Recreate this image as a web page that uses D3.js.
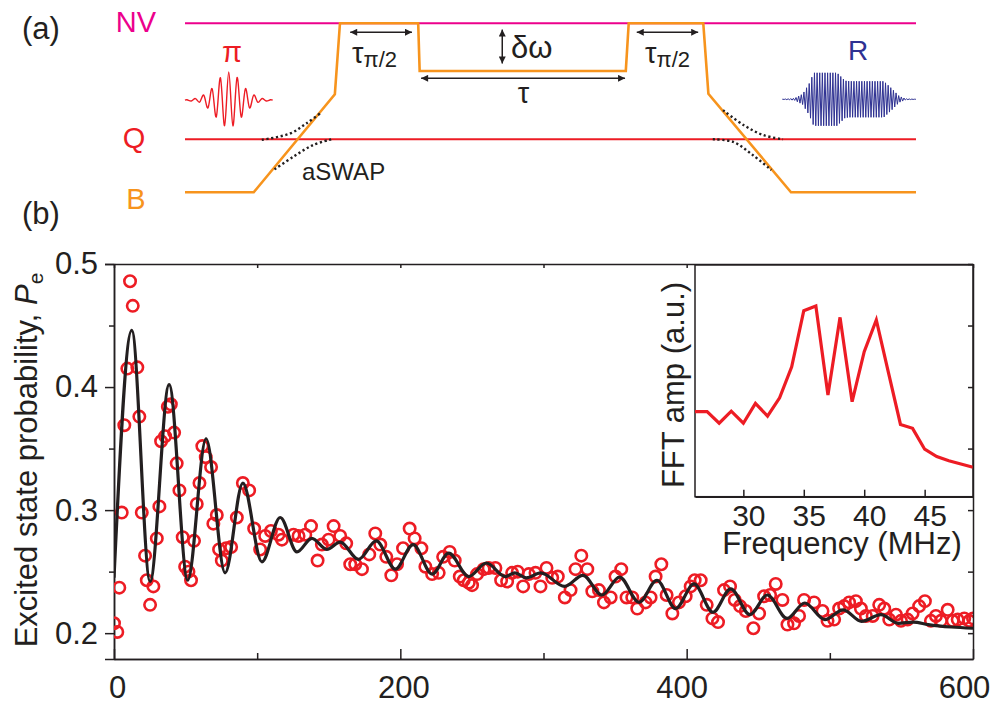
<!DOCTYPE html>
<html>
<head>
<meta charset="utf-8">
<script src="https://cdn.jsdelivr.net/npm/d3@7"></script>
<style>
body { margin: 0; background: #fff; }
text { font-family: "Liberation Sans", Arial, sans-serif; fill: #231f20; }
</style>
</head>
<body>
<script>
// ---- panel (b): measured excited state probability vs time (ns)
var dataX = [0, 2.3, 3.7, 5.4, 7.2, 9.3, 11.2, 13.1, 16.3, 17.7,
  19.4, 21.7, 22.9, 25.2, 27.5, 29.9, 31.7, 32.9, 35.7, 37.6,
  39.7, 42.0, 43.8, 45.7, 48.0, 49.7, 52.0, 53.8, 55.9, 57.8,
  59.7, 61.7, 64.1, 67.8, 69.4, 71.8, 73.4, 75.3, 78.3, 81.8,
  85.8, 90.0, 94.4, 97.9, 102.1, 105.6, 109.6, 114.9, 117.3, 125.4,
  128.9, 133.6, 137.6, 142.2, 145.2, 149.9, 153.4, 158.0, 162.2, 165.0,
  168.5, 173.2, 178.3, 182.5, 186.0, 190.2, 193.7, 197.7, 201.9, 206.5,
  210.0, 214.7, 217.5, 222.2, 226.8, 229.9, 234.5, 238.0, 241.5, 244.3,
  247.8, 250.1, 253.6, 258.2, 261.7, 266.4, 270.4, 274.6, 278.1, 282.0,
  285.8, 289.7, 294.4, 297.9, 302.1, 306.1, 310.0, 314.9, 318.9, 322.4,
  326.4, 330.6, 334.1, 338.7, 342.2, 346.9, 350.3, 354.3, 358.0, 362.0,
  365.5, 371.3, 374.8, 378.3, 382.3, 386.0, 390.0, 394.6, 399.3, 402.8,
  405.6, 409.8, 414.0, 418.0, 421.9, 426.1, 430.3, 433.6, 437.3, 441.3,
  446.6, 450.6, 454.1, 458.3, 462.2, 466.9, 470.4, 475.0, 478.5, 482.0,
  489.0, 494.9, 498.4, 503.0, 506.5, 510.0, 513.5, 518.2, 521.7, 525.2,
  529.9, 534.5, 538.0, 541.5, 546.2, 549.7, 554.3, 557.8, 562.4, 566.4,
  570.6, 574.1, 577.6, 582.3, 585.8, 589.3, 593.9, 597.4, 600];
var dataY = [0.208, 0.201, 0.237, 0.298, 0.369, 0.415, 0.486, 0.466, 0.416, 0.376,
  0.298, 0.263, 0.243, 0.223, 0.238, 0.277, 0.303, 0.356, 0.360, 0.384,
  0.386, 0.363, 0.338, 0.316, 0.278, 0.254, 0.250, 0.243, 0.275, 0.305,
  0.322, 0.352, 0.343, 0.335, 0.289, 0.296, 0.268, 0.259, 0.269, 0.270,
  0.294, 0.322, 0.316, 0.285, 0.268, 0.279, 0.283, 0.280, 0.276, 0.280,
  0.279, 0.280, 0.287, 0.259, 0.272, 0.276, 0.287, 0.279, 0.273, 0.256,
  0.256, 0.252, 0.264, 0.281, 0.272, 0.262, 0.247, 0.256, 0.269, 0.285,
  0.277, 0.269, 0.254, 0.248, 0.249, 0.262, 0.266, 0.259, 0.246, 0.243,
  0.241, 0.239, 0.248, 0.252, 0.253, 0.253, 0.243, 0.242, 0.249, 0.250,
  0.238, 0.248, 0.249, 0.238, 0.253, 0.245, 0.246, 0.229, 0.235, 0.252,
  0.263, 0.252, 0.234, 0.235, 0.225, 0.229, 0.246, 0.252, 0.229, 0.229,
  0.220, 0.225, 0.229, 0.246, 0.256, 0.231, 0.216, 0.225, 0.230, 0.238,
  0.243, 0.243, 0.223, 0.212, 0.209, 0.235, 0.238, 0.227, 0.222, 0.218,
  0.204, 0.216, 0.230, 0.231, 0.240, 0.227, 0.207, 0.208, 0.214, 0.227,
  0.225, 0.218, 0.210, 0.211, 0.220, 0.222, 0.225, 0.226, 0.220, 0.214,
  0.214, 0.223, 0.220, 0.211, 0.215, 0.210, 0.211, 0.216, 0.222, 0.226,
  0.210, 0.214, 0.210, 0.219, 0.210, 0.211, 0.212, 0.210, 0.212];

// fit curve, read at its turning points
var fitX = [0, 12.4, 25.2, 38.5, 51.5, 64.3, 77.6, 90.0, 103.3, 116.1,
  127.8, 138.2, 148.7, 158.0, 170.8, 183.2, 196.5, 208.9, 222.2, 233.8,
  247.8, 260.1, 273.4, 280, 288, 298, 314.7, 327.5, 340.8, 353.1,
  366.8, 379.2, 392.3, 405.1, 418.4, 430.8, 444.1, 456.4, 470.1, 482.5,
  496.5, 509.3, 522.2, 535.7, 547.8, 558.3, 568.7, 585, 600];
var fitY = [0.245, 0.446, 0.242, 0.402, 0.243, 0.358, 0.249, 0.322, 0.258, 0.294,
  0.266, 0.277, 0.268, 0.274, 0.260, 0.275, 0.252, 0.272, 0.248, 0.265,
  0.246, 0.257, 0.246, 0.249, 0.245, 0.249, 0.238, 0.247, 0.231, 0.2456,
  0.225, 0.243, 0.220, 0.240, 0.217, 0.236, 0.215, 0.231, 0.212, 0.2245,
  0.211, 0.219, 0.2096, 0.215, 0.208, 0.209, 0.207, 0.205, 0.204];

var xMajor = [0, 200, 400, 600], xMinor = [100, 300, 500];
var yMajor = [0.2, 0.3, 0.4, 0.5], yMinor = [0.25, 0.35, 0.45];

// inset: FFT amplitude (a.u.) vs frequency (MHz)
var fftF = [26, 27, 28, 29, 30, 31, 32, 33, 34, 35, 36, 37, 38, 39, 40, 41, 42, 43, 44, 45, 46, 47, 48, 49];
var fftA = [0.367, 0.367, 0.317, 0.369, 0.317, 0.403, 0.348, 0.427, 0.561, 0.803, 0.823, 0.439,
  0.774, 0.410, 0.626, 0.763, 0.537, 0.312, 0.295, 0.205, 0.173, 0.155, 0.141, 0.127];
var fftTicks = [30, 35, 40, 45];

// ---- panel (a): pulse sequence, time in a.u., level energy in a.u.
var levelE = { NV: 3.19, Q: 1 };
var bT = [0, 9.4, 20.5, 21.2, 31.9, 32.1, 60.3, 60.7, 70.9, 71.6, 82.9, 100];
var bE = [0, 0, 1.85, 3.19, 3.19, 2.29, 2.29, 3.19, 3.19, 1.86, 0, 0];
var dotCurves = [
  [[10.5, 0.99], [14.4, 1.11], [16.6, 1.30], [18.5, 1.49]],
  [[20.0, 1.0], [17.5, 0.89], [14.8, 0.67], [12.1, 0.42]],
  [[73.6, 1.55], [76.4, 1.27], [79.1, 1.08], [81.8, 1.0]],
  [[72.2, 1.0], [75.0, 0.95], [77.7, 0.70], [80.2, 0.42]]
];
var piEnvT = [0, 2.0, 3.56, 5.0, 6.0, 7.0, 8.4, 10.0, 12.0];
var piEnvA = [0, 0.04, 0.19, 0.45, 0.53, 0.45, 0.19, 0.04, 0];
var rEnvT = [81.7, 83.4, 84.5, 85.4, 86.0, 89.2, 90.3, 91.0, 95.6, 96.7, 97.7, 98.6, 100];
var rEnvA = [0, 0.02, 0.1, 0.3, 0.5, 0.5, 0.35, 0.34, 0.34, 0.2, 0.06, 0.01, 0];

var ink = '#231f20', red = '#ed1c24', orange = '#f7941d', magenta = '#ec008c', blue = '#2e3192';

var svg = d3.select('body').append('svg')
  .attr('width', 994).attr('height', 707);

var defs = svg.append('defs');
defs.append('marker').attr('id', 'arr')
  .attr('viewBox', '0 0 10 10').attr('refX', 10).attr('refY', 5)
  .attr('markerUnits', 'userSpaceOnUse')
  .attr('markerWidth', 9).attr('markerHeight', 7)
  .attr('orient', 'auto-start-reverse')
  .append('path').attr('d', 'M0,0L10,5L0,10z').attr('fill', ink);
defs.append('clipPath').attr('id', 'plotclip')
  .append('rect').attr('x', 114).attr('y', 264).attr('width', 859).attr('height', 395);

// ================= panel (a) =================
var tx = d3.scaleLinear().domain([0, 100]).range([185, 916]);
var ey = d3.scaleLinear().domain([0, 1]).range([192.3, 139.3]);

function label(g, txt, px, py, size, color, anchor) {
  return g.append('text').attr('x', px).attr('y', py)
    .attr('font-size', size).attr('text-anchor', anchor || 'start')
    .style('fill', color || ink).text(txt);
}

var ga = svg.append('g');
label(ga, '(a)', 22, 39, 31);
label(ga, 'NV', 136, 32, 29, magenta, 'middle');
label(ga, 'Q', 134, 148, 29, red, 'middle');
label(ga, 'B', 136, 209, 29, orange, 'middle');

ga.append('line').attr('x1', tx(0)).attr('x2', tx(100))
  .attr('y1', ey(levelE.NV)).attr('y2', ey(levelE.NV))
  .attr('stroke', magenta).attr('stroke-width', 2);
ga.append('line').attr('x1', tx(0)).attr('x2', tx(100))
  .attr('y1', ey(levelE.Q)).attr('y2', ey(levelE.Q))
  .attr('stroke', red).attr('stroke-width', 2);

var bPts = bT.map(function(t, i) { return [t, bE[i]]; });
var lineTE = d3.line().x(function(d) { return tx(d[0]); }).y(function(d) { return ey(d[1]); });
ga.append('path').attr('d', lineTE(bPts))
  .attr('fill', 'none').attr('stroke', orange).attr('stroke-width', 2.6)
  .attr('stroke-linejoin', 'miter');

var dotLine = d3.line().x(function(d) { return tx(d[0]); }).y(function(d) { return ey(d[1]); })
  .curve(d3.curveCatmullRom);
dotCurves.forEach(function(c) {
  ga.append('path').attr('d', dotLine(c))
    .attr('fill', 'none').attr('stroke', ink).attr('stroke-width', 2.4)
    .attr('stroke-dasharray', '2.2,2.6');
});

// pulses: carrier swings between +/- envelope
function pulse(envT, envA, half, center) {
  var env = d3.scaleLinear().domain(envT).range(envA).clamp(true);
  var pts = [[envT[0], center]], k = 0;
  for (var t = envT[0] + half / 2; t < envT[envT.length - 1]; t += half) {
    pts.push([t, center + (k % 2 ? -1 : 1) * env(t)]);
    k++;
  }
  pts.push([envT[envT.length - 1], center]);
  return pts;
}
var piPts = pulse(piEnvT, piEnvA, 0.57, 1.74);
ga.append('path').attr('d', lineTE.curve(d3.curveCardinal)(piPts))
  .attr('fill', 'none').attr('stroke', red).attr('stroke-width', 1.4);
var rPts = pulse(rEnvT, rEnvA, 0.18, 1.755);
ga.append('path').attr('d', lineTE.curve(d3.curveLinear)(rPts))
  .attr('fill', 'none').attr('stroke', blue).attr('stroke-width', 1);
label(ga, 'π', 232, 62, 29, red, 'middle');
label(ga, 'R', 858, 60, 28, blue, 'middle');

// arrows
function arrow(t1, e1, t2, e2) {
  ga.append('line').attr('x1', tx(t1)).attr('y1', ey(e1)).attr('x2', tx(t2)).attr('y2', ey(e2))
    .attr('stroke', ink).attr('stroke-width', 1.5)
    .attr('marker-start', 'url(#arr)').attr('marker-end', 'url(#arr)');
}
arrow(22.6, 3.02, 31.05, 3.02);
arrow(61.8, 3.02, 70.2, 3.02);
arrow(32.3, 2.15, 60.2, 2.15);
arrow(43.4, 3.07, 43.4, 2.43);

[352, 645].forEach(function(px) {
  var t = ga.append('text').attr('x', px).attr('y', 63).attr('font-size', 29);
  t.append('tspan').text('τ');
  t.append('tspan').attr('font-size', 22).attr('dy', 4).text('π/2');
});
label(ga, 'δω', 511, 58, 31);
label(ga, 'τ', 523.5, 103, 29, ink, 'middle');
label(ga, 'aSWAP', 302, 180, 24);
label(ga, '(b)', 22, 224, 31);

// ================= panel (b) =================
var x = d3.scaleLinear().domain([0, 600]).range([114, 973]);
var y = d3.scaleLinear().domain([0.179, 0.5]).range([659, 264]);

function styleAxis(g, size) {
  g.attr('font-size', size).attr('color', ink);
  g.selectAll('path, line').attr('stroke-width', 1.5);
  return g;
}

// the outer tick labels sit a little inside the frame, as in the figure
styleAxis(svg.append('g').attr('transform', 'translate(0,659)')
  .call(d3.axisBottom(x).tickValues(xMajor).tickSizeInner(-10).tickSizeOuter(0)
    .tickPadding(17).tickFormat(d3.format('d'))), 31)
  .selectAll('text').attr('dx', function(d) { return d === 600 ? -9 : (d === 400 ? -5 : 3); });
styleAxis(svg.append('g').attr('transform', 'translate(0,659)')
  .call(d3.axisBottom(x).tickValues(xMinor).tickSizeInner(-6).tickSizeOuter(0)
    .tickFormat(function() { return ''; })), 31);
styleAxis(svg.append('g').attr('transform', 'translate(0,264)')
  .call(d3.axisTop(x).tickValues(xMajor.concat(xMinor)).tickSizeInner(-4).tickSizeOuter(0)
    .tickFormat(function() { return ''; })), 31);
styleAxis(svg.append('g').attr('transform', 'translate(114,0)')
  .call(d3.axisLeft(y).tickValues(yMajor).tickSize(9).tickPadding(7)
    .tickFormat(d3.format('.1f'))), 31);
styleAxis(svg.append('g').attr('transform', 'translate(114,0)')
  .call(d3.axisLeft(y).tickValues(yMinor).tickSizeInner(5).tickSizeOuter(0)
    .tickFormat(function() { return ''; })), 31);

var yTitle = svg.append('text')
  .attr('transform', 'translate(36.5,460) rotate(-90)')
  .attr('text-anchor', 'middle').attr('font-size', 31);
yTitle.append('tspan').text('Excited state probability, ');
yTitle.append('tspan').attr('font-style', 'italic').text('P');
yTitle.append('tspan').attr('font-size', 21).attr('dy', 6).text('e');

var plot = svg.append('g').attr('clip-path', 'url(#plotclip)');
plot.selectAll('circle').data(dataX).enter().append('circle')
  .attr('cx', function(d) { return x(d); })
  .attr('cy', function(d, i) { return y(dataY[i]); })
  .attr('r', 5.7)
  .attr('fill', 'none').attr('stroke', red).attr('stroke-width', 2.6);

var fitPts = fitX.map(function(v, i) { return [v, fitY[i]]; });
plot.append('path')
  .attr('d', d3.line().x(function(d) { return x(d[0]); }).y(function(d) { return y(d[1]); })
    .curve(d3.curveMonotoneX)(fitPts))
  .attr('fill', 'none').attr('stroke', ink).attr('stroke-width', 3.2);

// ---- inset
var fx = d3.scaleLinear().domain([26, 49]).range([695, 973]);
var fy = d3.scaleLinear().domain([0, 1]).range([496.7, 265]);

svg.append('rect').attr('x', 695).attr('y', 265).attr('width', 278).attr('height', 231.7)
  .attr('fill', '#fff').attr('stroke', ink).attr('stroke-width', 1.5);
svg.append('path')
  .attr('d', d3.line().x(function(d) { return fx(d); }).y(function(d, i) { return fy(fftA[i]); })(fftF))
  .attr('fill', 'none').attr('stroke', red).attr('stroke-width', 3.2)
  .attr('stroke-linejoin', 'miter');
styleAxis(svg.append('g').attr('transform', 'translate(0,496.7)')
  .call(d3.axisBottom(fx).tickValues(fftTicks).tickSizeInner(-7).tickSizeOuter(0)
    .tickPadding(8.5).tickFormat(d3.format('d'))), 30)
  .selectAll('text').attr('dx', 5);
svg.append('text').attr('x', 842).attr('y', 554).attr('text-anchor', 'middle')
  .attr('font-size', 31).text('Frequency (MHz)');
svg.append('text').attr('transform', 'translate(684,385) rotate(-90)')
  .attr('text-anchor', 'middle').attr('font-size', 31).text('FFT amp (a.u.)');

// right frame of (b), drawn over the inset
styleAxis(svg.append('g').attr('transform', 'translate(973,0)')
  .call(d3.axisRight(y).tickValues(yMajor.concat(yMinor)).tickSizeInner(-5).tickSizeOuter(0)
    .tickFormat(function() { return ''; })), 31);
</script>
</body>
</html>
